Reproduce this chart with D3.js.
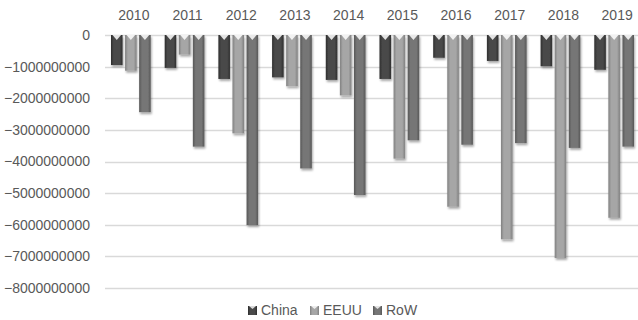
<!DOCTYPE html>
<html>
<head>
<meta charset="utf-8">
<script src="https://cdn.jsdelivr.net/npm/d3@7/dist/d3.min.js"></script>
<style>
  html, body { margin: 0; padding: 0; background: #fff; }
  svg { display: block; }
  text { font-family: "Liberation Sans", Arial, sans-serif; fill: #595959; }
</style>
</head>
<body>
<svg id="chart" width="638" height="320"></svg>
<script>
// Yearly balances by partner
const years = ["2010","2011","2012","2013","2014","2015","2016","2017","2018","2019"];
const seriesNames = ["China", "EEUU", "RoW"];
const china = [-950000000, -1040000000, -1390000000, -1340000000, -1420000000, -1390000000, -720000000, -820000000, -990000000, -1100000000];
const eeuu  = [-1130000000, -620000000, -3110000000, -1620000000, -1910000000, -3910000000, -5430000000, -6460000000, -7050000000, -5780000000];
const row   = [-2440000000, -3530000000, -6010000000, -4220000000, -5060000000, -3330000000, -3470000000, -3420000000, -3570000000, -3530000000];
const yTicks = [0, -1000000000, -2000000000, -3000000000, -4000000000, -5000000000, -6000000000, -7000000000, -8000000000];

const seriesValues = [china, eeuu, row];
const colors = { China: ["#2e2e2e", "#4a4a4a"], EEUU: ["#808080", "#a6a6a6"], RoW: ["#575757", "#767676"] };

const svg = d3.select("#chart");
const defs = svg.append("defs");

// Bevelled fill per series: darker edges, lighter centre
seriesNames.forEach((name, i) => {
  const g = defs.append("linearGradient").attr("id", "grad" + i)
    .attr("x1", "0").attr("x2", "1").attr("y1", "0").attr("y2", "0");
  const [dark, light] = colors[name];
  g.append("stop").attr("offset", "0%").attr("stop-color", dark);
  g.append("stop").attr("offset", "25%").attr("stop-color", light);
  g.append("stop").attr("offset", "75%").attr("stop-color", light);
  g.append("stop").attr("offset", "100%").attr("stop-color", dark);
});
const shadow = defs.append("filter").attr("id", "shadow")
  .attr("x", "-30%").attr("y", "-10%").attr("width", "160%").attr("height", "130%");
shadow.append("feGaussianBlur").attr("in", "SourceAlpha").attr("stdDeviation", 1.2).attr("result", "b");
shadow.append("feOffset").attr("in", "b").attr("dx", 0.5).attr("dy", 1.5).attr("result", "o");
shadow.append("feComponentTransfer").attr("in", "o").attr("result", "s")
  .append("feFuncA").attr("type", "linear").attr("slope", 0.35);
const merge = shadow.append("feMerge");
merge.append("feMergeNode").attr("in", "s");
merge.append("feMergeNode").attr("in", "SourceGraphic");

const y = d3.scaleLinear().domain([-8000000000, 0]).range([288, 35]);
const x0 = d3.scaleBand().domain(years).range([107, 644]).paddingInner(0).paddingOuter(0);
const x1 = d3.scaleBand().domain(seriesNames).range([4, x0.bandwidth() - 10]).paddingInner(0.18);

// Gridlines
const yAxis = d3.axisLeft(y).tickValues(yTicks).tickFormat(d3.format("d")).tickSize(0).tickPadding(15);
const yg = svg.append("g").attr("transform", "translate(105,0)").call(yAxis);
yg.select(".domain").remove();
yg.selectAll("text").style("font-size", "14px").attr("fill", "#595959");

svg.append("g").selectAll("line").data(yTicks).join("line")
  .attr("x1", 105).attr("x2", 638)
  .attr("y1", d => Math.round(y(d)) + 0.5).attr("y2", d => Math.round(y(d)) + 0.5)
  .attr("stroke", "#d9d9d9").attr("stroke-width", 1.3);

// Year labels along the top
const xAxis = d3.axisTop(x0).tickSize(0).tickPadding(0);
const xg = svg.append("g").attr("transform", "translate(0,20)").call(xAxis);
xg.select(".domain").remove();
xg.selectAll("text").style("font-size", "14px").attr("fill", "#595959");

// Bars
const groups = svg.append("g").selectAll("g").data(years).join("g")
  .attr("transform", d => `translate(${x0(d)},0)`);

groups.each(function(year, yi) {
  const g = d3.select(this);
  seriesNames.forEach((name, si) => {
    const v = seriesValues[si][yi];
    const bx = x1(name), bw = x1.bandwidth();
    const top = y(0), bottom = y(v);
    g.append("rect")
      .attr("x", bx).attr("y", top)
      .attr("width", bw).attr("height", bottom - top)
      .attr("fill", `url(#grad${si})`)
      .attr("filter", "url(#shadow)");
    // pale notch at the top of each bar
    g.append("path")
      .attr("d", `M${bx + 1.5},${top} L${bx + bw - 1.5},${top} L${bx + bw / 2},${top + 5} Z`)
      .attr("fill", "#ffffff").attr("opacity", 0.85);
  });
});

// Legend
const legendItems = [
  { name: "China", x: 248 },
  { name: "EEUU", x: 310 },
  { name: "RoW", x: 373 }
];
const lg = svg.append("g");
legendItems.forEach((it, i) => {
  lg.append("rect").attr("x", it.x).attr("y", 306).attr("width", 9).attr("height", 9)
    .attr("fill", `url(#grad${i})`);
  lg.append("path")
    .attr("d", `M${it.x + 1},306 L${it.x + 8},306 L${it.x + 4.5},309 Z`)
    .attr("fill", "#fff").attr("opacity", 0.8);
  lg.append("text").attr("x", it.x + 13).attr("y", 315)
    .style("font-size", "14px").text(it.name);
});
</script>
</body>
</html>
